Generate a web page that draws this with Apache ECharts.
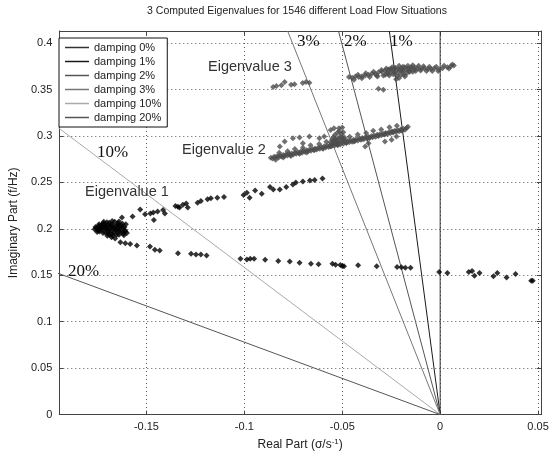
<!DOCTYPE html>
<html><head><meta charset="utf-8">
<script src="https://cdn.jsdelivr.net/npm/echarts@6/dist/echarts.min.js"></script>
<style>html,body{margin:0;padding:0;background:#fff}#c{width:555px;height:456px}</style>
</head><body><div id="c"></div>
<script>
// ---- data ----
const titleText = '3 Computed Eigenvalues for 1546 different Load Flow Situations';
const xTicks = [-0.15, -0.1, -0.05, 0, 0.05];
const yTicks = [0, 0.05, 0.1, 0.15, 0.2, 0.25, 0.3, 0.35, 0.4];
const xRange = [-0.1945, 0.0515];
const yRange = [0, 0.413];
const dampingPercents = [0, 1, 2, 3, 10, 20];
const dampingNames = ['damping 0%', 'damping 1%', 'damping 2%', 'damping 3%', 'damping 10%', 'damping 20%'];

const eig1 = [
  [-0.1765,0.1995],[-0.1755,0.2010],[-0.1750,0.1985],[-0.1745,0.2030],[-0.1740,0.1970],[-0.1735,0.2005],
  [-0.1730,0.2045],[-0.1725,0.1990],[-0.1720,0.2060],[-0.1718,0.2075],[-0.1712,0.2020],[-0.1710,0.1960],
  [-0.1705,0.2040],[-0.1700,0.2000],[-0.1695,0.1945],[-0.1690,0.2065],[-0.1685,0.2025],[-0.1680,0.1980],
  [-0.1678,0.1910],[-0.1672,0.2045],[-0.1668,0.2005],[-0.1665,0.1960],[-0.1660,0.1895],[-0.1655,0.2030],
  [-0.1650,0.1975],[-0.1645,0.2060],[-0.1640,0.1935],[-0.1636,0.2000],[-0.1630,0.2040],[-0.1625,0.1965],
  [-0.1620,0.2010],[-0.1615,0.1930],[-0.1610,0.1985],[-0.1605,0.2050],[-0.1600,0.1955],[-0.1690,0.1990],
  [-0.1710,0.2000],[-0.1650,0.2010],[-0.1675,0.2085],[-0.1640,0.2080],
  [-0.1760,0.2020],[-0.1752,0.1965],[-0.1742,0.2050],[-0.1738,0.1990],[-0.1728,0.2025],[-0.1722,0.1955],
  [-0.1715,0.2045],[-0.1702,0.2070],[-0.1698,0.1975],[-0.1692,0.2030],[-0.1682,0.2050],[-0.1676,0.1950],
  [-0.1670,0.2015],[-0.1662,0.2075],[-0.1658,0.1990],[-0.1652,0.1935],[-0.1646,0.2040],[-0.1638,0.1970],
  [-0.1632,0.2020],[-0.1622,0.2055],[-0.1618,0.1950],[-0.1612,0.2020],[-0.1608,0.1970],[-0.1700,0.1925],
  [-0.1688,0.1935],[-0.1672,0.1925],[-0.1725,0.2015],[-0.1744,0.2008],
  [-0.1625,0.2122],[-0.1571,0.2133],[-0.1532,0.2208],[-0.1507,0.2158],[-0.1480,0.2165],[-0.1465,0.2176],
  [-0.1443,0.2186],[-0.1415,0.2204],[-0.1406,0.2165],[-0.1462,0.2094],[-0.1352,0.2247],[-0.1339,0.2237],
  [-0.1331,0.2229],[-0.1314,0.2258],[-0.1297,0.2272],[-0.1289,0.2229],[-0.1239,0.2282],[-0.1222,0.2300],
  [-0.1188,0.2318],[-0.1171,0.2328],[-0.1138,0.2336],[-0.1104,0.2343],[-0.1004,0.2365],[-0.0987,0.2389],
  [-0.0973,0.2336],[-0.0945,0.2414],[-0.0911,0.2378],[-0.0869,0.2450],[-0.0852,0.2424],[-0.0819,0.2424],
  [-0.0786,0.2450],[-0.0752,0.2478],[-0.0737,0.2500],[-0.0701,0.2510],[-0.0665,0.2520],[-0.0641,0.2525],
  [-0.0601,0.2542],
  [-0.1633,0.1856],[-0.1608,0.1845],[-0.1583,0.1838],[-0.1549,0.1821],[-0.1482,0.1810],[-0.1457,0.1774],
  [-0.1432,0.1767],[-0.1339,0.1738],[-0.1272,0.1731],[-0.1247,0.1725],[-0.1222,0.1725],[-0.1193,0.1714],
  [-0.1020,0.1678],[-0.0987,0.1671],[-0.0970,0.1678],[-0.0950,0.1678],[-0.0894,0.1667],[-0.0827,0.1653],
  [-0.0768,0.1648],[-0.0718,0.1635],[-0.0660,0.1624],[-0.0621,0.1618],[-0.0550,0.1624],[-0.0534,0.1614],
  [-0.0500,0.1600],[-0.0491,0.1597],[-0.0510,0.1611],[-0.0419,0.1607],[-0.0324,0.1597],[-0.0220,0.1589],
  [-0.0198,0.1586],[-0.0178,0.1582],[-0.0151,0.1582],[-0.0005,0.1536],[0.0037,0.1525],[0.0146,0.1536],
  [0.0163,0.1547],[0.0175,0.1496],[0.0201,0.1525],[0.0272,0.1490],[0.0292,0.1525],[0.0339,0.1475],
  [0.0385,0.1514],[0.0465,0.1440],[0.0473,0.1440]
];

const eig2 = [
  [-0.0865,0.2765],[-0.0855,0.2758],[-0.0848,0.2775],[-0.0840,0.2770],[-0.0832,0.2782],[-0.0825,0.2768],
  [-0.0818,0.2790],[-0.0810,0.2778],[-0.0802,0.2795],[-0.0795,0.2784],[-0.0788,0.2800],[-0.0780,0.2790],
  [-0.0772,0.2808],[-0.0765,0.2795],[-0.0758,0.2812],[-0.0750,0.2801],[-0.0742,0.2820],[-0.0735,0.2808],
  [-0.0728,0.2826],[-0.0720,0.2815],[-0.0712,0.2832],[-0.0705,0.2820],[-0.0698,0.2840],[-0.0690,0.2828],
  [-0.0682,0.2845],[-0.0675,0.2835],[-0.0668,0.2852],[-0.0660,0.2840],[-0.0652,0.2860],[-0.0645,0.2848],
  [-0.0638,0.2866],[-0.0630,0.2855],[-0.0622,0.2873],[-0.0615,0.2862],[-0.0608,0.2880],[-0.0600,0.2868],
  [-0.0592,0.2888],[-0.0585,0.2875],[-0.0578,0.2895],[-0.0570,0.2882],[-0.0562,0.2900],[-0.0555,0.2888],
  [-0.0548,0.2910],[-0.0540,0.2895],[-0.0532,0.2918],[-0.0525,0.2902],[-0.0518,0.2925],[-0.0510,0.2908],
  [-0.0502,0.2932],[-0.0495,0.2915],[-0.0488,0.2940],[-0.0480,0.2925],[-0.0472,0.2945],[-0.0465,0.2932],
  [-0.0458,0.2952],[-0.0450,0.2938],[-0.0442,0.2958],[-0.0435,0.2945],[-0.0428,0.2965],[-0.0420,0.2950],
  [-0.0412,0.2972],[-0.0405,0.2958],[-0.0398,0.2978],[-0.0390,0.2965],[-0.0382,0.2985],[-0.0375,0.2972],
  [-0.0368,0.2992],[-0.0360,0.2978],[-0.0352,0.2998],[-0.0345,0.2985],[-0.0338,0.3005],[-0.0330,0.2992],
  [-0.0322,0.3012],[-0.0315,0.3000],[-0.0308,0.3018],[-0.0300,0.3008],[-0.0292,0.3025],[-0.0285,0.3015],
  [-0.0278,0.3032],[-0.0270,0.3022],[-0.0262,0.3040],[-0.0255,0.3030],[-0.0248,0.3048],[-0.0240,0.3038],
  [-0.0232,0.3055],[-0.0225,0.3045],[-0.0218,0.3062],[-0.0210,0.3052],[-0.0202,0.3070],[-0.0195,0.3060],
  [-0.0188,0.3078],[-0.0180,0.3068],[-0.0172,0.3085],[-0.0165,0.3100],
  [-0.0840,0.2745],[-0.0801,0.2769],[-0.0762,0.2785],[-0.0718,0.2808],[-0.0681,0.2823],[-0.0642,0.2848],
  [-0.0598,0.2862],[-0.0561,0.2887],[-0.0522,0.2903],[-0.0479,0.2927],[-0.0441,0.2941],[-0.0399,0.2966],
  [-0.0362,0.2981],[-0.0318,0.3005],[-0.0281,0.3020],[-0.0242,0.3046],[-0.0199,0.3060],
  [-0.0822,0.2819],[-0.0779,0.2834],[-0.0742,0.2860],[-0.0701,0.2874],[-0.0662,0.2899],[-0.0618,0.2913],
  [-0.0581,0.2938],[-0.0542,0.2952],[-0.0499,0.2978],[-0.0462,0.2991],[-0.0421,0.3017],[-0.0378,0.3031],
  [-0.0342,0.3056],[-0.0301,0.3070],[-0.0259,0.3095],[-0.0221,0.3110],
  [-0.0560,0.2930],[-0.0552,0.2960],[-0.0545,0.2985],[-0.0538,0.3010],[-0.0530,0.2950],[-0.0525,0.3035],
  [-0.0520,0.2975],[-0.0515,0.3050],[-0.0510,0.2990],[-0.0505,0.3020],[-0.0500,0.2960],[-0.0495,0.3040],
  [-0.0490,0.2985],[-0.0485,0.2960],[-0.0550,0.2910],[-0.0542,0.2940],[-0.0534,0.2970],[-0.0526,0.2920],
  [-0.0518,0.2948],
  [-0.0819,0.2887],[-0.0794,0.2940],[-0.0752,0.2976],[-0.0718,0.2983],[-0.0701,0.2922],[-0.0668,0.2994],
  [-0.0617,0.2976],[-0.0592,0.2994],[-0.0559,0.3064],[-0.0542,0.3082],[-0.0517,0.3082],[-0.0500,0.3090],
  [-0.0383,0.2887],[-0.0366,0.2922],[-0.0282,0.2940],[-0.0248,0.2958],[-0.0223,0.2994]
];

const eig3 = [
  [-0.0853,0.3528],[-0.0836,0.3539],[-0.0811,0.3546],[-0.0794,0.3581],[-0.0761,0.3552],[-0.0744,0.3556],
  [-0.0702,0.3570],[-0.0685,0.3581],[-0.0668,0.3574],
  [-0.0466,0.3634],[-0.0450,0.3626],[-0.0433,0.3640],[-0.0416,0.3634],[-0.0399,0.3644],[-0.0383,0.3651],
  [-0.0366,0.3658],[-0.0349,0.3669],[-0.0332,0.3669],[-0.0324,0.3651],[-0.0315,0.3687],[-0.0299,0.3694],
  [-0.0282,0.3704],[-0.0265,0.3715],[-0.0248,0.3722],[-0.0232,0.3730],[-0.0215,0.3722],[-0.0198,0.3730],
  [-0.0181,0.3740],[-0.0164,0.3730],[-0.0148,0.3740],[-0.0131,0.3740],[-0.0114,0.3730],[-0.0097,0.3722],
  [-0.0081,0.3730],[-0.0063,0.3722],[-0.0047,0.3722],[-0.0030,0.3730],[-0.0005,0.3715],[0.0012,0.3730],
  [0.0037,0.3740],[0.0054,0.3751],[0.0070,0.3758],
  [-0.0280,0.3660],[-0.0270,0.3680],[-0.0260,0.3650],[-0.0250,0.3690],[-0.0240,0.3665],[-0.0230,0.3700],
  [-0.0220,0.3645],[-0.0215,0.3680],[-0.0205,0.3710],[-0.0200,0.3660],[-0.0190,0.3695],[-0.0180,0.3640],
  [-0.0175,0.3715],[-0.0170,0.3675],[-0.0160,0.3700],[-0.0150,0.3720],[-0.0140,0.3690],[-0.0130,0.3715],
  [-0.0210,0.3625],[-0.0230,0.3735],[-0.0255,0.3720],[-0.0190,0.3745],[-0.0225,0.3610],
  [-0.0440,0.3605],[-0.0420,0.3660],[-0.0400,0.3620],[-0.0380,0.3675],[-0.0360,0.3635],[-0.0340,0.3690],
  [-0.0320,0.3640],[-0.0300,0.3710],[-0.0290,0.3650],[-0.0275,0.3725],[-0.0265,0.3670],[-0.0245,0.3740],
  [-0.0235,0.3680],[-0.0210,0.3755],[-0.0195,0.3705],[-0.0185,0.3660],[-0.0165,0.3755],[-0.0155,0.3690],
  [-0.0140,0.3760],[-0.0125,0.3700],[-0.0110,0.3755],[-0.0100,0.3705],[-0.0085,0.3750],[-0.0070,0.3700],
  [-0.0055,0.3745],[-0.0040,0.3700],[-0.0020,0.3745],[-0.0010,0.3700],[0.0020,0.3755],[0.0045,0.3725],
  [0.0062,0.3770],
  [-0.0315,0.3509],[-0.0290,0.3498]
];

// ---- styles ----
const dampingColors = ['#333333', '#1a1a1a', '#555555', '#777777', '#aaaaaa', '#555555'];
const font = 'Liberation Sans, Arial, sans-serif';
const serif = 'Liberation Serif, Times New Roman, serif';
const gridColor = '#555';

// damping line: sigma = -2*pi*f*zeta/sqrt(1-zeta^2), from origin to top of plot (clipped by grid)
function dampingLine(p) {
  const z = p / 100;
  const k = 2 * Math.PI * z / Math.sqrt(1 - z * z);
  return [[0, 0], [-k * yRange[1], yRange[1]]];
}

const chart = echarts.init(document.getElementById('c'), null, {renderer: 'canvas'});

const fmt = v => String(Math.round(v * 100) / 100);

const series = dampingPercents.map((p, i) => ({
  name: dampingNames[i], type: 'line', data: dampingLine(p), symbol: 'none', clip: true,
  lineStyle: {color: dampingColors[i], width: 1}, itemStyle: {color: dampingColors[i]},
  silent: true, z: 2
}));
series.push({type: 'scatter', name: 'ev1', data: eig1, symbol: 'diamond', symbolSize: 6,
  itemStyle: {color: '#000'}, z: 3});
series.push({type: 'scatter', name: 'ev2', data: eig2, symbol: 'diamond', symbolSize: 6,
  itemStyle: {color: '#4d4d4d'}, z: 3});
series.push({type: 'scatter', name: 'ev3', data: eig3, symbol: 'diamond', symbolSize: 6,
  itemStyle: {color: '#4d4d4d'}, z: 3});

const axisLineStyle = {color: '#444', width: 1};

chart.setOption({
  animation: false,
  backgroundColor: '#fff',
  grid: {left: 53, right: 14, top: 31, bottom: 37},
  legend: {data: dampingNames, orient: 'vertical', left: 59, top: 38, icon: 'rect',
    itemWidth: 24, itemHeight: 1.5, itemGap: 3, padding: [4, 6, 4, 6],
    borderColor: '#111', borderWidth: 1, backgroundColor: '#fff',
    textStyle: {fontFamily: font, fontSize: 11, color: '#222', lineHeight: 11}, z: 10},
  xAxis: [{
    type: 'value', min: xRange[0], max: xRange[1], position: 'bottom',
    name: 'Real Part (σ/s{sup|-1})', nameLocation: 'middle', nameGap: 21,
    nameTextStyle: {fontFamily: font, fontSize: 12, color: '#222',
      rich: {sup: {fontFamily: font, fontSize: 8, color: '#222', padding: [0, 0, 7, 0]}}},
    axisLine: {show: true, onZero: false, lineStyle: axisLineStyle},
    axisTick: {show: true, inside: true, length: 4, customValues: xTicks, lineStyle: axisLineStyle},
    axisLabel: {customValues: xTicks, formatter: fmt, margin: 7, fontFamily: font, fontSize: 11, color: '#222'},
    splitLine: {show: true, lineStyle: {color: gridColor, type: [1, 3], width: 1}}
  }, {
    type: 'value', min: xRange[0], max: xRange[1], position: 'top',
    axisLine: {show: true, onZero: false, lineStyle: axisLineStyle},
    axisTick: {show: true, inside: true, length: 4, customValues: xTicks, lineStyle: axisLineStyle},
    axisLabel: {show: false}, splitLine: {show: false}
  }],
  yAxis: [{
    type: 'value', min: yRange[0], max: yRange[1], position: 'left',
    name: 'Imaginary Part (f/Hz)', nameLocation: 'middle', nameGap: 27, nameRotate: 90,
    nameTextStyle: {fontFamily: font, fontSize: 12, color: '#222'},
    axisLine: {show: true, onZero: false, lineStyle: axisLineStyle},
    axisTick: {show: true, inside: true, length: 4, customValues: yTicks, lineStyle: axisLineStyle},
    axisLabel: {customValues: yTicks, formatter: fmt, margin: 7, fontFamily: font, fontSize: 11, color: '#222'},
    splitLine: {show: true, lineStyle: {color: gridColor, type: [1, 3], width: 1}}
  }, {
    type: 'value', min: yRange[0], max: yRange[1], position: 'right',
    axisLine: {show: true, onZero: false, lineStyle: axisLineStyle},
    axisTick: {show: true, inside: true, length: 4, customValues: yTicks, lineStyle: axisLineStyle},
    axisLabel: {show: false}, splitLine: {show: false}
  }],
  graphic: [
    {type: 'text', x: 297, y: 6, style: {text: titleText, font: '10.5px ' + font, fill: '#222', textAlign: 'center'}, z: 5},
    {type: 'text', left: 297, top: 33, style: {text: '3%', font: '17px ' + serif, fill: '#111'}, z: 5},
    {type: 'text', left: 344, top: 33, style: {text: '2%', font: '17px ' + serif, fill: '#111'}, z: 5},
    {type: 'text', left: 390, top: 33, style: {text: '1%', font: '17px ' + serif, fill: '#111'}, z: 5},
    {type: 'text', left: 97, top: 144, style: {text: '10%', font: '17px ' + serif, fill: '#111'}, z: 5},
    {type: 'text', left: 68, top: 263, style: {text: '20%', font: '17px ' + serif, fill: '#111'}, z: 5},
    {type: 'text', left: 208, top: 59, style: {text: 'Eigenvalue 3', font: '14.5px ' + font, fill: '#333'}, z: 5},
    {type: 'text', left: 182, top: 142, style: {text: 'Eigenvalue 2', font: '14.5px ' + font, fill: '#333'}, z: 5},
    {type: 'text', left: 85, top: 184, style: {text: 'Eigenvalue 1', font: '14.5px ' + font, fill: '#333'}, z: 5}
  ],
  series: series
});
</script>
</body></html>
